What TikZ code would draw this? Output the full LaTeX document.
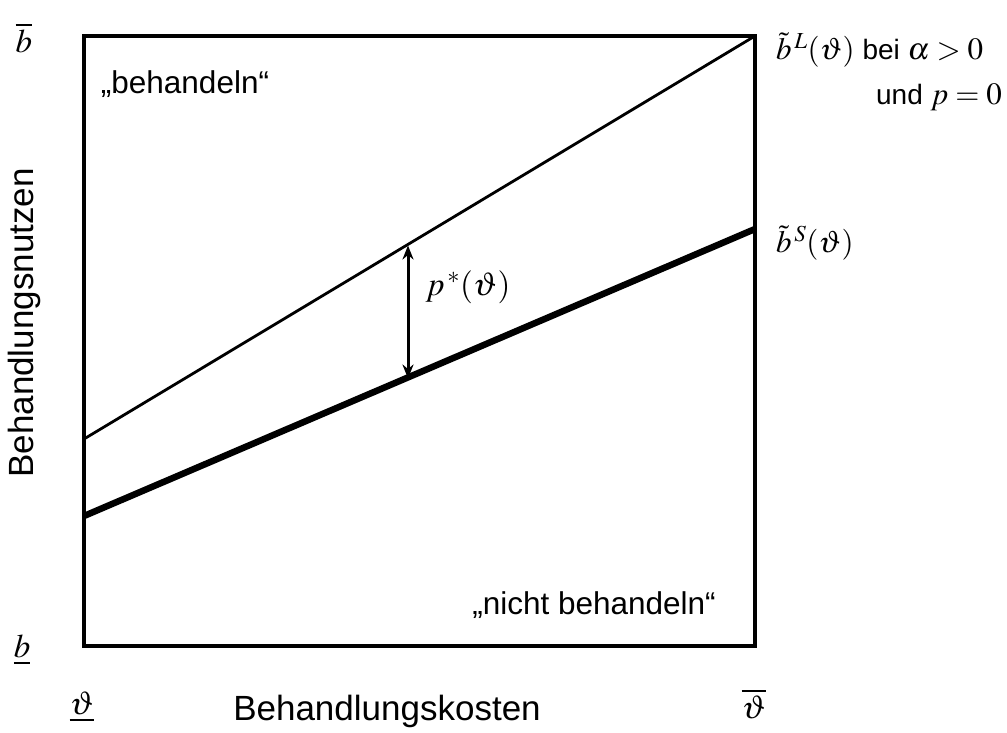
\documentclass[tikz,border=0pt]{standalone}
\usepackage{mathptmx}
\usepackage{fontspec}
\setmainfont{Liberation Sans}
\usetikzlibrary{arrows.meta}
\newcommand{\sidemath}[1]{{\fontsize{31}{36}\selectfont$#1$}}
\begin{document}
\begin{tikzpicture}[x=1pt,y=-1pt,
  axl/.style={font=\fontsize{35}{40}\selectfont, inner sep=0pt},
  reg/.style={font=\fontsize{31.5}{36}\selectfont, inner sep=0pt},
  side/.style={font=\fontsize{28}{34}\selectfont, inner sep=0pt},
  mth/.style={font=\fontsize{33}{40}\selectfont, inner sep=0pt},
  frame/.style={line width=4pt},
  thinline/.style={line width=2.8pt},
  thickline/.style={line width=6.5pt},
  dbl/.style={line width=3pt, {Stealth[length=14pt,width=11pt]}-{Stealth[length=14pt,width=11pt]}}]
\useasboundingbox (0,0) rectangle (1007,733);
\coordinate (bl) at (84,646);
\coordinate (tr) at (755,36);
\draw[frame] (bl) rectangle (tr);
\coordinate (L0) at (84,439);
\coordinate (L1) at (755,36);
\coordinate (S0) at (84,516);
\coordinate (S1) at (755,229);
\draw[thinline] (L0) -- (L1);
\draw[thickline] (S0) -- (S1);
\coordinate (pa) at (408,245.5);
\coordinate (pb) at (408,378.5);
\draw[dbl] (pa) -- (pb);
\node[mth] (pstar) at (468,287) {$p^{\,*}(\vartheta)$};
\node[mth] (bbar) at (24,38) {$\overline{b}$};
\node[mth] (bund) at (22,650) {$\underline{b}$};
\node[mth] (tund) at (82,707) {$\underline{\vartheta}$};
\node[mth] (tbar) at (754,704) {$\overline{\vartheta}$};
\node[axl] (xl) at (387,711) {Behandlungskosten};
\node[axl, rotate=90] (yl) at (24,323) {Behandlungsnutzen};
\node[reg] (beh) at (185,84) {„behandeln“};
\node[reg] (nbeh) at (594,605) {„nicht behandeln“};
\node[side, anchor=west] (bL) at (776,50) {\sidemath{\tilde{b}^{\,L}(\vartheta)} bei \sidemath{\alpha\;{>}\;0}};
\node[side, anchor=east] (und) at (1002,97) {und \sidemath{p\;{=}\;0}};
\node[side, anchor=west] (bS) at (776,243) {\sidemath{\tilde{b}^{\,S}(\vartheta)}};
\end{tikzpicture}
\end{document}
